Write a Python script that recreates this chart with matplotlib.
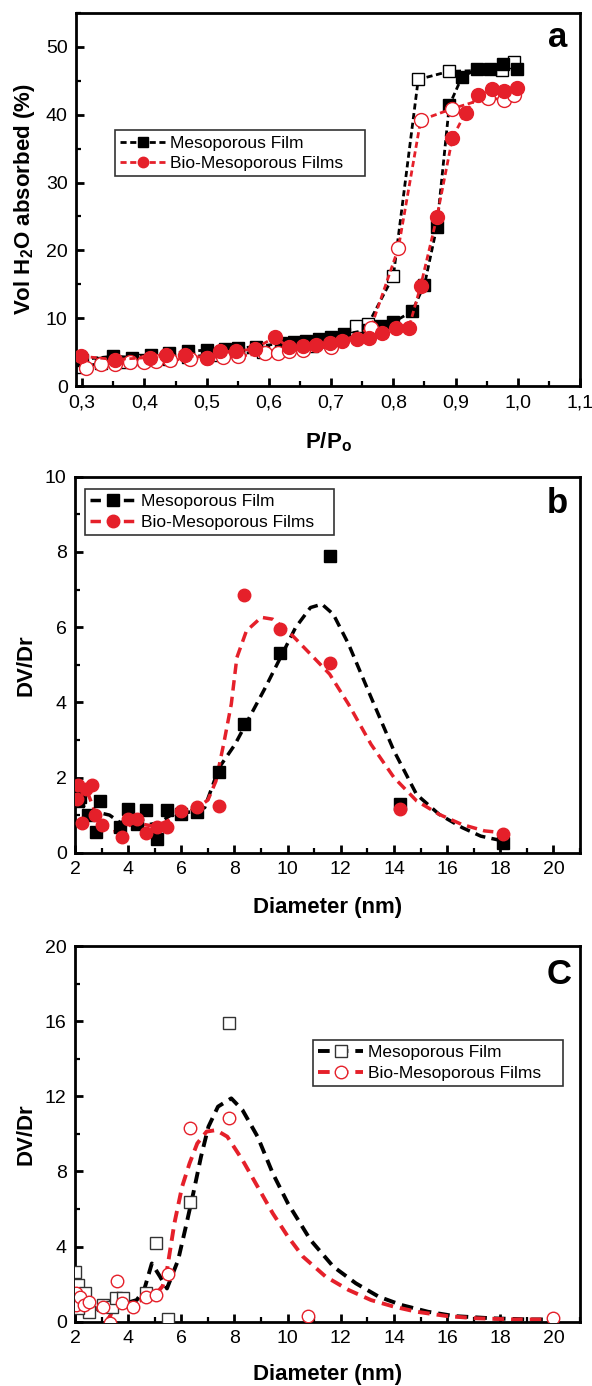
import matplotlib
matplotlib.use("Agg")
import matplotlib.pyplot as plt
from matplotlib.ticker import MultipleLocator, FixedLocator, FixedFormatter

plt.rcParams['font.family'] = ['Liberation Sans', 'DejaVu Sans']
plt.rcParams['mathtext.fontset'] = 'custom'
plt.rcParams['mathtext.rm'] = 'Liberation Sans'
plt.rcParams['mathtext.bf'] = 'Liberation Sans:bold'

RED = '#e5202a'

# ---------------- Panel a: water adsorption isotherms ----------------
a_meso_ads_x = [0.30, 0.35, 0.38, 0.41, 0.44, 0.47, 0.50, 0.53, 0.55, 0.58, 0.62, 0.64, 0.66,
                0.68, 0.70, 0.72, 0.76, 0.78, 0.80, 0.83, 0.85, 0.87, 0.89, 0.91, 0.935, 0.955,
                0.976, 0.998]
a_meso_ads_y = [3.9, 4.4, 4.2, 4.6, 4.8, 5.1, 5.3, 5.5, 5.6, 5.8, 6.3, 6.5, 6.7,
                7.0, 7.2, 7.6, 8.3, 8.8, 9.4, 11.0, 14.9, 23.5, 41.4, 45.5, 46.8, 46.8,
                47.5, 46.8]
a_meso_des_x = [0.30, 0.33, 0.37, 0.40, 0.44, 0.47, 0.51, 0.55, 0.59, 0.63, 0.67, 0.70,
                0.74, 0.76, 0.80, 0.84, 0.89, 0.975, 0.994]
a_meso_des_y = [2.8, 3.4, 3.6, 3.8, 4.0, 4.3, 4.6, 4.8, 5.0, 5.4, 5.9, 6.2,
                8.9, 9.2, 16.2, 45.2, 46.4, 46.6, 47.8]
a_bio_ads_x = [0.298, 0.352, 0.409, 0.435, 0.465, 0.50, 0.521, 0.547, 0.577, 0.610, 0.632,
               0.655, 0.676, 0.699, 0.718, 0.742, 0.761, 0.782, 0.805, 0.825, 0.844, 0.870,
               0.895, 0.916, 0.936, 0.958, 0.978, 0.998]
a_bio_ads_y = [4.4, 3.9, 4.2, 4.5, 4.5, 4.2, 5.1, 5.1, 5.5, 7.2, 5.7,
               5.9, 6.0, 6.4, 6.6, 6.9, 7.1, 7.8, 8.6, 8.6, 14.8, 24.9,
               36.6, 40.3, 42.9, 43.8, 43.5, 43.9]
a_bio_des_x = [0.306, 0.330, 0.352, 0.376, 0.399, 0.418, 0.441, 0.474, 0.500, 0.527, 0.550,
               0.594, 0.614, 0.633, 0.655, 0.700, 0.764, 0.808, 0.844, 0.895, 0.952, 0.978,
               0.994]
a_bio_des_y = [2.7, 3.2, 3.3, 3.5, 3.6, 3.7, 3.8, 4.0, 4.2, 4.3, 4.4,
               4.8, 4.9, 5.1, 5.3, 5.8, 8.6, 20.3, 39.2, 40.9, 42.5, 42.2,
               42.9]
a_xticks = [0.3, 0.4, 0.5, 0.6, 0.7, 0.8, 0.9, 1.0, 1.1]
a_xticklabels = ['0,3', '0,4', '0,5', '0,6', '0,7', '0,8', '0,9', '1,0', '1,1']

# ---------------- Panel b: pore size distribution ----------------
b_meso_x = [2.11, 2.19, 2.5, 2.79, 2.94, 3.69, 4.0, 4.32, 4.67, 5.08, 5.48, 5.98, 6.58,
            7.40, 8.36, 9.73, 11.58, 14.24, 18.12]
b_meso_y = [1.38, 1.49, 1.0, 0.56, 1.38, 0.69, 1.16, 0.76, 1.13, 0.36, 1.13, 1.02, 1.08,
            2.14, 3.43, 5.30, 7.90, 1.30, 0.27]
b_bio_x = [2.06, 2.12, 2.40, 2.63, 2.25, 2.75, 3.0, 3.76, 4.0, 4.32, 4.67, 5.10, 5.48,
           5.98, 6.58, 7.40, 8.37, 9.73, 11.58, 14.24, 18.12]
b_bio_y = [1.42, 1.80, 1.70, 1.80, 0.80, 1.0, 0.74, 0.43, 0.90, 0.90, 0.53, 0.68, 0.68,
           1.10, 1.22, 1.24, 6.85, 5.96, 5.04, 1.17, 0.51]
b_meso_fit_x = [2.0, 2.3, 2.6, 3.0, 3.3, 3.7, 4.0, 4.4, 4.8, 5.2, 5.6, 6.0, 6.5, 6.88, 7.42,
                8.02, 9.16, 9.73, 10.30, 10.86, 11.29, 11.72, 12.29, 13.14, 14.0, 14.85,
                15.70, 16.56, 17.27, 18.12]
b_meso_fit_y = [1.3, 1.25, 1.0, 1.05, 1.0, 0.8, 0.85, 0.9, 0.75, 0.8, 1.0, 1.05, 1.1, 1.2, 2.26,
                2.88, 4.39, 5.19, 5.99, 6.52, 6.61, 6.34, 5.55, 4.13, 2.71, 1.55,
                1.02, 0.67, 0.44, 0.31]
b_bio_fit_x = [2.0, 2.2, 2.5, 2.8, 3.1, 3.4, 3.8, 4.2, 4.6, 5.0, 5.5, 6.0, 6.5, 7.0, 7.3,
               7.59, 7.88, 8.09, 8.45, 9.01, 9.44, 10.01, 10.86, 11.58, 12.29, 13.14, 14.0,
               14.85, 15.70, 16.56, 17.41, 18.12]
b_bio_fit_y = [1.4, 1.65, 1.55, 1.0, 0.7, 0.55, 0.6, 0.8, 0.75, 0.7, 0.85, 1.05, 1.15, 1.4, 1.9,
               2.88, 3.95, 5.19, 5.90, 6.26, 6.21, 5.90, 5.28, 4.75, 3.95, 2.88, 2.0,
               1.38, 1.02, 0.75, 0.58, 0.53]

# ---------------- Panel c: pore size distribution ----------------
c_meso_x = [2.0, 2.11, 2.36, 2.54, 2.11, 3.04, 3.39, 3.54, 3.82, 4.67, 5.03, 5.50, 6.34, 7.81]
c_meso_y = [2.66, 1.95, 1.51, 0.53, 0.71, 0.89, 0.80, 1.24, 1.24, 1.51, 4.17, 0.12, 6.39, 15.88]
c_bio_x = [2.04, 2.04, 2.18, 2.33, 2.54, 3.07, 3.32, 3.57, 3.78, 4.18, 4.67, 5.03, 5.50,
           6.34, 7.81, 10.77, 20.0]
c_bio_y = [1.51, 0.89, 1.33, 0.89, 1.06, 0.80, -0.09, 2.17, 0.98, 0.80, 1.33, 1.42, 2.52,
           10.29, 10.83, 0.30, 0.18]
c_meso_fit_x = [2.0, 2.61, 3.18, 3.89, 4.32, 4.6, 4.89, 5.2, 5.46, 5.88, 6.17, 6.45, 6.74,
                7.02, 7.38, 7.88, 8.30, 8.87, 9.44, 10.01, 10.86, 11.72, 12.57, 13.43,
                14.28, 15.28, 16.27, 17.69, 19.12, 20.0]
c_meso_fit_y = [0.98, 0.71, 0.62, 0.98, 1.15, 1.69, 3.1, 2.4, 1.77, 3.28, 5.06, 6.83, 8.78,
                10.38, 11.45, 11.89, 11.27, 9.85, 7.90, 6.30, 4.35, 2.93, 2.04, 1.33,
                0.89, 0.53, 0.30, 0.18, 0.12, 0.12]
c_bio_fit_x = [2.0, 2.4, 2.8, 3.1, 3.3, 3.5, 3.6, 3.8, 4.2, 4.6, 5.0, 5.3, 5.46, 5.74, 6.03,
               6.31, 6.60, 6.95, 7.31, 7.73, 8.30, 8.87, 9.44, 10.01, 10.58, 11.43, 12.29,
               13.14, 14.0, 14.85, 15.99, 17.12, 18.55, 20.0]
c_bio_fit_y = [1.2, 1.0, 0.7, 0.5, 0.2, 1.0, 1.5, 1.0, 1.0, 1.2, 1.4, 1.9, 2.75, 5.24, 7.19,
               8.43, 9.49, 10.12, 10.20, 9.85, 8.61, 7.19, 5.77, 4.53, 3.46, 2.40, 1.69,
               1.15, 0.80, 0.53, 0.30, 0.18, 0.12, 0.12]

labels = ['Mesoporous Film', 'Bio-Mesoporous Films']

W, H = 592, 1386
fig = plt.figure(figsize=(W / 100, H / 100), dpi=100)
axA = fig.add_axes([76 / W, 1 - 386 / H, 504 / W, 373 / H])
axB = fig.add_axes([75 / W, 1 - 852.7 / H, 505 / W, 376 / H])
axC = fig.add_axes([75 / W, 1 - 1321.7 / H, 505 / W, 375.7 / H])


def style(ax):
    for s in ax.spines.values():
        s.set_linewidth(2.0)
    ax.tick_params(which='both', direction='in', top=False, right=False, labelsize=14,
                   pad=6)
    ax.tick_params(which='major', length=6, width=2)
    ax.tick_params(which='minor', length=3.5, width=1.6)


def make_legend(ax, handles, x0, ytop, width, markerscale=1.0):
    leg = ax.legend(handles, labels, loc='upper left', bbox_to_anchor=(x0, ytop, width, 0),
                    mode='expand', fontsize=12.5, frameon=True, fancybox=False,
                    edgecolor='black', handlelength=2.6, handletextpad=0.3, borderpad=0.3,
                    labelspacing=0.3, borderaxespad=0, markerscale=markerscale)
    leg.get_frame().set_linewidth(1.2)
    return leg


label_font = dict(fontsize=16, fontweight='bold')

# ---- a ----
ax = axA
style(ax)
dash_a = (0, (2.2, 1.3))
ax.plot(a_meso_des_x, a_meso_des_y, color='black', ls=dash_a, lw=2, marker='s', ms=9,
        mfc='white', mec='black', mew=1.0, zorder=2)
la1, = ax.plot(a_meso_ads_x, a_meso_ads_y, color='black', ls=dash_a, lw=2, marker='s',
               ms=9, mfc='black', mec='black', zorder=3)
ax.plot(a_bio_des_x, a_bio_des_y, color=RED, ls=dash_a, lw=2, marker='o', ms=10,
        mfc='white', mec=RED, mew=1.0, zorder=4)
la2, = ax.plot(a_bio_ads_x, a_bio_ads_y, color=RED, ls=dash_a, lw=2, marker='o', ms=10,
               mfc=RED, mec=RED, zorder=5)
ax.set_xlim(0.29, 1.1)
ax.set_ylim(0, 55)
ax.xaxis.set_major_locator(FixedLocator(a_xticks))
ax.xaxis.set_major_formatter(FixedFormatter(a_xticklabels))
ax.xaxis.set_minor_locator(MultipleLocator(0.05))
ax.yaxis.set_major_locator(FixedLocator([0, 10, 20, 30, 40, 50]))
ax.yaxis.set_minor_locator(MultipleLocator(5))
ax.set_xlabel(r'P/P$_\mathbf{o}$', labelpad=14, **label_font)
ax.set_ylabel(r'Vol H$_\mathbf{2}$O absorbed (%)', labelpad=6, **label_font)
ax.text(0.955, 0.935, 'a', transform=ax.transAxes, ha='center', va='center',
        fontsize=25, fontweight='bold')
make_legend(ax, [la1, la2], 0.077, 0.685, 0.496, markerscale=0.75)

# ---- b ----
ax = axB
style(ax)
dash_bc = (0, (3.0, 1.8))
ax.plot(b_meso_fit_x, b_meso_fit_y, color='black', ls=dash_bc, lw=2.5, zorder=2)
ax.plot(b_bio_fit_x, b_bio_fit_y, color=RED, ls=dash_bc, lw=2.5, zorder=2)
ax.plot(b_meso_x, b_meso_y, ls='none', marker='s', ms=8, mfc='black', mec='black', zorder=3)
ax.plot(b_bio_x, b_bio_y, ls='none', marker='o', ms=9, mfc=RED, mec=RED, zorder=4)
hb1, = ax.plot([], [], color='black', ls=dash_bc, lw=2.5, marker='s', ms=8, mfc='black',
               mec='black')
hb2, = ax.plot([], [], color=RED, ls=dash_bc, lw=2.5, marker='o', ms=9, mfc=RED, mec=RED)
ax.set_xlim(2, 21)
ax.set_ylim(0, 10)
ax.xaxis.set_major_locator(FixedLocator(list(range(2, 21, 2))))
ax.xaxis.set_minor_locator(MultipleLocator(1))
ax.yaxis.set_major_locator(FixedLocator([0, 2, 4, 6, 8, 10]))
ax.yaxis.set_minor_locator(MultipleLocator(1))
ax.set_xlabel('Diameter (nm)', labelpad=14, **label_font)
ax.set_ylabel('DV/Dr', labelpad=6, **label_font)
ax.text(0.955, 0.93, 'b', transform=ax.transAxes, ha='center', va='center',
        fontsize=25, fontweight='bold')
make_legend(ax, [hb1, hb2], 0.02, 0.967, 0.493)

# ---- c ----
ax = axC
style(ax)
ax.plot(c_meso_fit_x, c_meso_fit_y, color='black', ls=dash_bc, lw=2.8, zorder=2)
ax.plot(c_bio_fit_x, c_bio_fit_y, color=RED, ls=dash_bc, lw=2.8, zorder=2)
ax.plot(c_meso_x, c_meso_y, ls='none', marker='s', ms=8, mfc='white', mec='#333333',
        mew=1.0, zorder=3)
ax.plot(c_bio_x, c_bio_y, ls='none', marker='o', ms=9, mfc='white', mec=RED, mew=1.0,
        zorder=4)
hc1, = ax.plot([], [], color='black', ls=dash_bc, lw=2.8, marker='s', ms=8, mfc='white',
               mec='#333333', mew=1.0)
hc2, = ax.plot([], [], color=RED, ls=dash_bc, lw=2.8, marker='o', ms=9, mfc='white',
               mec=RED, mew=1.0)
ax.set_xlim(2, 21)
ax.set_ylim(0, 20)
ax.xaxis.set_major_locator(FixedLocator(list(range(2, 21, 2))))
ax.xaxis.set_minor_locator(MultipleLocator(1))
ax.yaxis.set_major_locator(FixedLocator([0, 4, 8, 12, 16, 20]))
ax.yaxis.set_minor_locator(MultipleLocator(2))
ax.set_xlabel('Diameter (nm)', labelpad=12, **label_font)
ax.set_ylabel('DV/Dr', labelpad=6, **label_font)
ax.text(0.958, 0.923, 'C', transform=ax.transAxes, ha='center', va='center',
        fontsize=25, fontweight='bold')
make_legend(ax, [hc1, hc2], 0.471, 0.75, 0.495)

fig.savefig('out.png', dpi=100)
